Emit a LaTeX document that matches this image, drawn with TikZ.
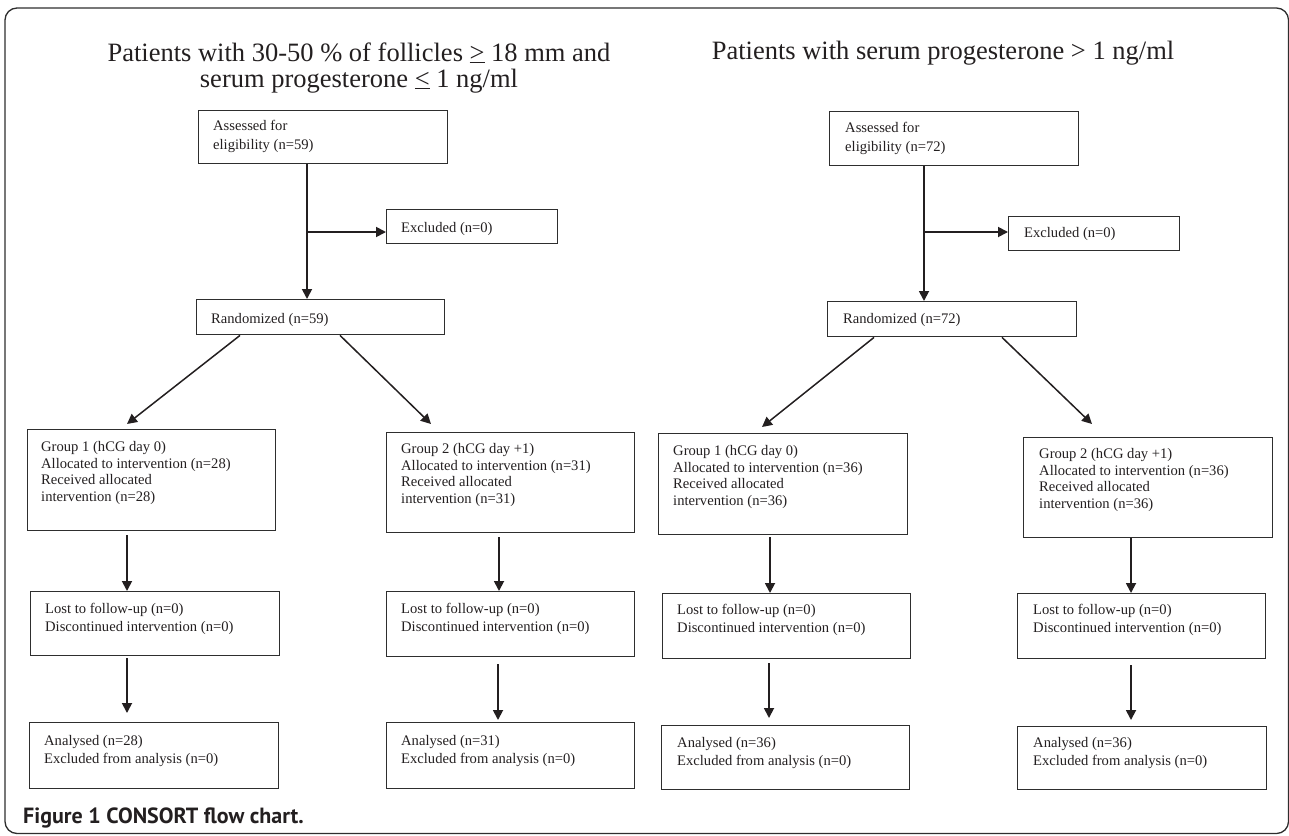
\documentclass[tikz,border=0pt]{standalone}
\usepackage{fontspec}
\setmainfont{Liberation Serif}
\newfontfamily\capfont{PT Sans}
\usetikzlibrary{arrows.meta,calc}
\definecolor{ink}{HTML}{231F20}
\definecolor{edge}{HTML}{2E2E2E}
\begin{document}
\begin{tikzpicture}[x=1pt,y=-1pt,
  box/.style={draw=edge, line width=1.4pt, inner sep=0pt, rectangle, anchor=north west},
  txt/.style={inner sep=0pt, anchor=north west, align=left, text=ink, font=\fontsize{14.6}{16.7}\selectfont},
  txtw/.style={txt, font=\fontsize{14.6}{18.3}\selectfont},
  txta/.style={txt, font=\fontsize{14.6}{19.2}\selectfont},
  arr/.style={draw=ink, line width=1.8pt, -{Triangle[length=10pt,width=10pt]}},
  darr/.style={arr, line width=1.5pt},
  ttl/.style={inner sep=0pt, anchor=base, text=ink, font=\fontsize{26.5}{30}\selectfont}]
\useasboundingbox (0,0) rectangle (1289,835);
% frame
\draw[draw=edge, line width=1.3pt, rounded corners=12pt] (5,833.5) rectangle (1288.5,8);
% titles
\node[ttl] (T1a) at (359,61) {Patients with 30-50 \% of follicles \underline{>} 18 mm and};
\node[ttl] (T1b) at (359,87) {serum progesterone \underline{<} 1 ng/ml};
\node[ttl] (T2) at (943,59) {Patients with serum progesterone > 1 ng/ml};

% ---------- left flow ----------
\node[box, minimum width=249, minimum height=53] (A1) at (198,110) {};
\node[txta] (A1t) at ($(A1.north west)+(15,10)$) {Assessed for\\eligibility (n=59)};
\node[box, minimum width=171, minimum height=34] (E1) at (386,209) {};
\node[txt] (E1t) at ($(E1.north west)+(15,13)$) {Excluded (n=0)};
\node[box, minimum width=248, minimum height=35] (R1) at (196,299) {};
\node[txt] (R1t) at ($(R1.north west)+(15,14)$) {Randomized (n=59)};
\coordinate (j1) at (307,232);
\draw[arr] (A1.south -| j1) -- (R1.north -| j1);
\draw[arr] (j1) -- (E1.west |- j1);

\node[box, minimum width=248, minimum height=101] (G1a) at (27,429) {};
\node[txt] (G1at) at ($(G1a.north west)+(14,12)$) {Group 1 (hCG day 0)\\Allocated to intervention (n=28)\\Received allocated\\intervention (n=28)};
\node[box, minimum width=248, minimum height=100] (G2a) at (386,432) {};
\node[txt] (G2at) at ($(G2a.north west)+(15,11)$) {Group 2 (hCG day +1)\\Allocated to intervention (n=31)\\Received allocated\\intervention (n=31)};
\node[box, minimum width=249, minimum height=64] (L1a) at (30,591) {};
\node[txtw] (L1at) at ($(L1a.north west)+(15,12)$) {Lost to follow-up (n=0)\\Discontinued intervention (n=0)};
\node[box, minimum width=248, minimum height=65] (L2a) at (386,591) {};
\node[txtw] (L2at) at ($(L2a.north west)+(15,12)$) {Lost to follow-up (n=0)\\Discontinued intervention (n=0)};
\node[box, minimum width=249, minimum height=66] (N1a) at (29,722) {};
\node[txtw] (N1at) at ($(N1a.north west)+(15,13)$) {Analysed (n=28)\\Excluded from analysis (n=0)};
\node[box, minimum width=248, minimum height=66] (N2a) at (386,722) {};
\node[txtw] (N2at) at ($(N2a.north west)+(15,13)$) {Analysed (n=31)\\Excluded from analysis (n=0)};

\draw[darr] ($(R1.south west)+(44,0)$) -- ($(G1a.north west)+(100,-5)$);
\draw[darr] ($(R1.south west)+(144,0)$) -- ($(G2a.north west)+(45,-8)$);
\draw[arr] ($(G1a.south west)+(100,4)$) -- ($(L1a.north west)+(97,0)$);
\draw[arr] ($(L1a.south west)+(97,2)$) -- ($(N1a.north west)+(98,-9)$);
\draw[arr] ($(G2a.south west)+(113,4)$) -- ($(L2a.north west)+(113,0)$);
\draw[arr] ($(L2a.south west)+(112,7)$) -- ($(N2a.north west)+(112,-2)$);

% ---------- right flow ----------
\node[box, minimum width=249, minimum height=54] (A2) at (829,111) {};
\node[txta] (A2t) at ($(A2.north west)+(16,11)$) {Assessed for\\eligibility (n=72)};
\node[box, minimum width=171, minimum height=34] (E2) at (1008,216) {};
\node[txt] (E2t) at ($(E2.north west)+(16,11)$) {Excluded (n=0)};
\node[box, minimum width=249, minimum height=35] (R2) at (827,301) {};
\node[txt] (R2t) at ($(R2.north west)+(16,12)$) {Randomized (n=72)};
\coordinate (j2) at (924,232);
\draw[arr] (A2.south -| j2) -- (R2.north -| j2);
\draw[arr] (j2) -- (E2.west |- j2);

\node[box, minimum width=249, minimum height=101] (G1b) at (658,433) {};
\node[txt] (G1bt) at ($(G1b.north west)+(15,12)$) {Group 1 (hCG day 0)\\Allocated to intervention (n=36)\\Received allocated\\intervention (n=36)};
\node[box, minimum width=249, minimum height=100] (G2b) at (1023,437) {};
\node[txt] (G2bt) at ($(G2b.north west)+(16,11)$) {Group 2 (hCG day +1)\\Allocated to intervention (n=36)\\Received allocated\\intervention (n=36)};
\node[box, minimum width=248, minimum height=65] (L1b) at (662,593) {};
\node[txtw] (L1bt) at ($(L1b.north west)+(15,11)$) {Lost to follow-up (n=0)\\Discontinued intervention (n=0)};
\node[box, minimum width=248, minimum height=65] (L2b) at (1017,593) {};
\node[txtw] (L2bt) at ($(L2b.north west)+(16,11)$) {Lost to follow-up (n=0)\\Discontinued intervention (n=0)};
\node[box, minimum width=248, minimum height=64] (N1b) at (661,725) {};
\node[txtw] (N1bt) at ($(N1b.north west)+(16,12)$) {Analysed (n=36)\\Excluded from analysis (n=0)};
\node[box, minimum width=249, minimum height=63] (N2b) at (1017,726) {};
\node[txtw] (N2bt) at ($(N2b.north west)+(16,11)$) {Analysed (n=36)\\Excluded from analysis (n=0)};

\draw[darr] ($(R2.south west)+(47,0)$) -- ($(G1b.north west)+(104,-6)$);
\draw[darr] ($(R2.south west)+(175,0)$) -- ($(G2b.north west)+(69,-13)$);
\draw[arr] ($(G1b.south west)+(112,2)$) -- ($(L1b.north west)+(108,0)$);
\draw[arr] ($(L1b.south west)+(107,4)$) -- ($(N1b.north west)+(108,-7)$);
\draw[arr] ($(G2b.south west)+(108,0)$) -- ($(L2b.north west)+(114,0)$);
\draw[arr] ($(L2b.south west)+(114,6)$) -- ($(N2b.north west)+(114,-6)$);

% caption
\node[anchor=base west, inner sep=0pt, text=ink, font=\capfont\bfseries\fontsize{22}{24}\selectfont] (cap) at (23,823) {Figure 1 CONSORT flow chart.};
\end{tikzpicture}
\end{document}
